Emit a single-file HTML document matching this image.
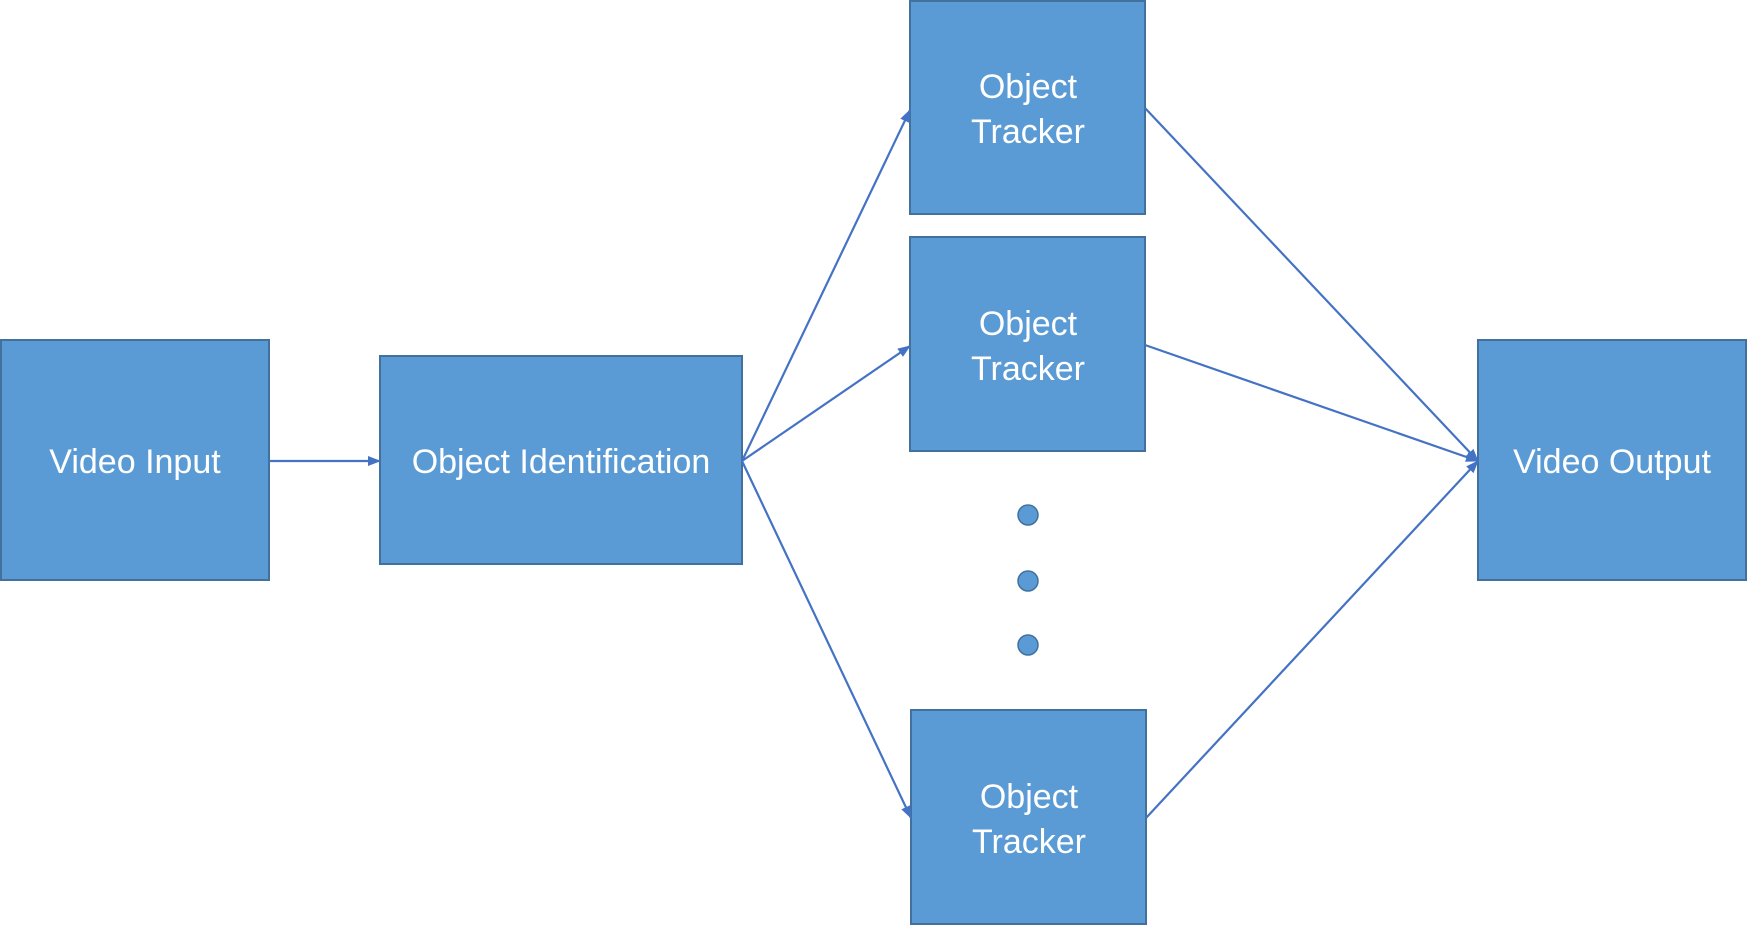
<!DOCTYPE html>
<html><head><meta charset="utf-8"><style>
html,body{margin:0;padding:0;background:#fff;}
svg{display:block;}
text{font-family:"Liberation Sans",sans-serif;font-size:34px;fill:#fff;text-anchor:middle;}
</style></head><body>
<svg width="1747" height="926" viewBox="0 0 1747 926" xmlns="http://www.w3.org/2000/svg">
<defs>
<marker id="a" markerWidth="13" markerHeight="10" refX="12" refY="5" orient="auto" markerUnits="userSpaceOnUse">
<path d="M0,0 L13,5 L0,10 z" fill="#4472c4"/>
</marker>
</defs>
<g fill="#5b9bd5" stroke="#41719c" stroke-width="2">
<rect x="1" y="340" width="268" height="240"/>
<rect x="380" y="356" width="362" height="208"/>
<rect x="910" y="1" width="235" height="213"/>
<rect x="910" y="237" width="235" height="214"/>
<rect x="911" y="710" width="235" height="214"/>
<rect x="1478" y="340" width="268" height="240"/>
</g>
<g fill="#5b9bd5" stroke="#41719c" stroke-width="1.5">
<circle cx="1028" cy="515" r="10"/>
<circle cx="1028" cy="581" r="10"/>
<circle cx="1028" cy="645" r="10"/>
</g>
<g stroke="#4472c4" stroke-width="2.2" fill="none" marker-end="url(#a)">
<line x1="269" y1="461" x2="380" y2="461"/>
<line x1="742" y1="461" x2="910" y2="110"/>
<line x1="742" y1="461" x2="910" y2="346"/>
<line x1="742" y1="461" x2="911" y2="818"/>
<line x1="1145" y1="108" x2="1478" y2="461"/>
<line x1="1145" y1="345" x2="1478" y2="461"/>
<line x1="1146" y1="818" x2="1478" y2="461"/>
</g>
<text x="135" y="473">Video Input</text>
<text x="561" y="473">Object Identification</text>
<text x="1028" y="98">Object</text>
<text x="1028" y="143">Tracker</text>
<text x="1028" y="335">Object</text>
<text x="1028" y="380">Tracker</text>
<text x="1029" y="808">Object</text>
<text x="1029" y="853">Tracker</text>
<text x="1612" y="473">Video Output</text>
</svg>
</body></html>
